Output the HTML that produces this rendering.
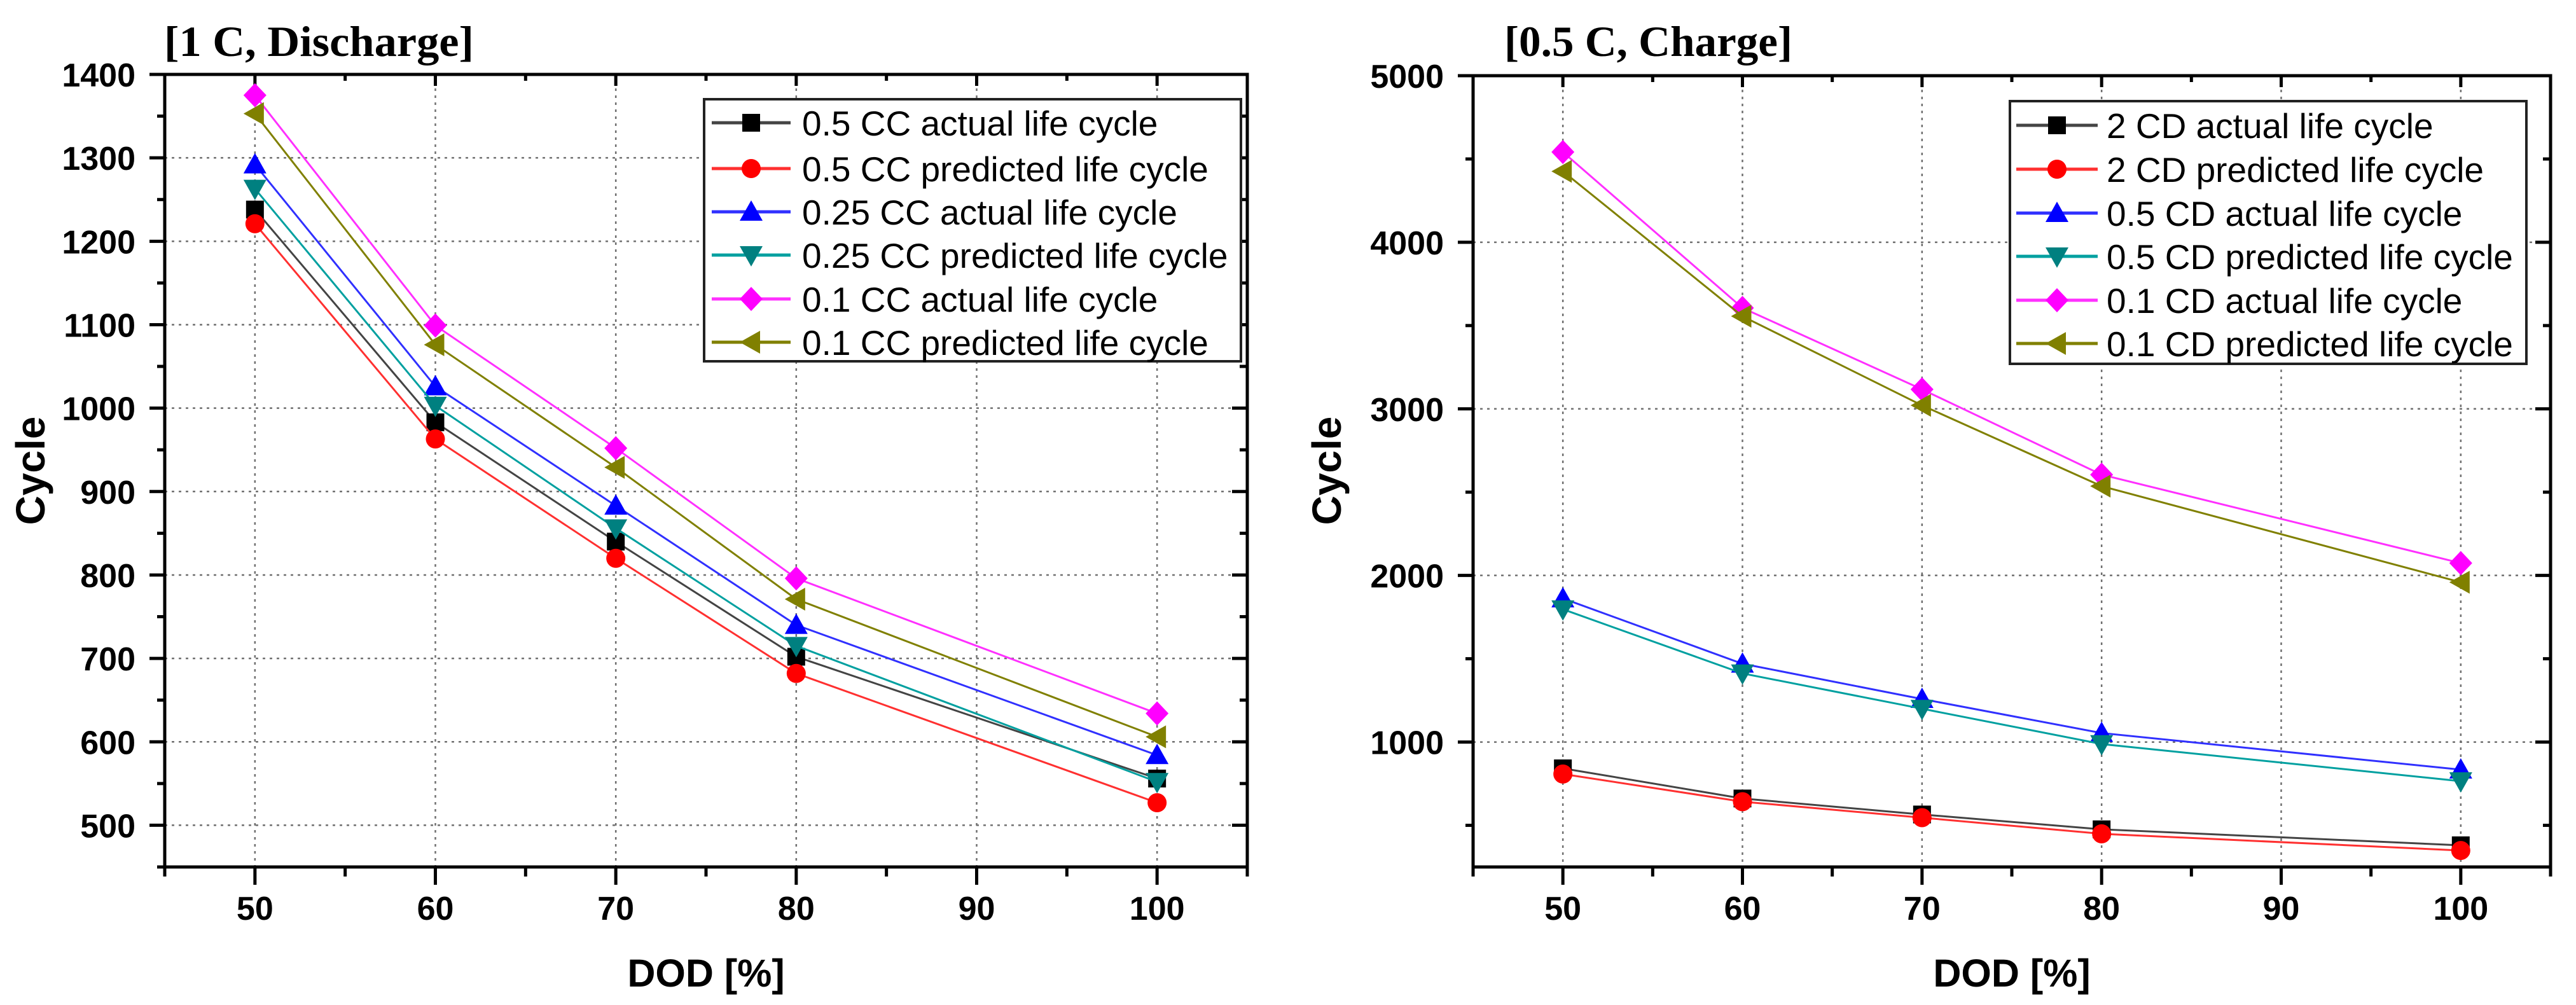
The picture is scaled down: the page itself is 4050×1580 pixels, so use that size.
<!DOCTYPE html>
<html><head><meta charset="utf-8">
<style>
html,body{margin:0;padding:0;background:#fff;}
svg{display:block;}
text{font-family:"Liberation Sans",Arial,sans-serif;}
.ttl{font-family:"Liberation Serif","Times New Roman",serif;font-weight:bold;}
</style></head>
<body>
<svg id="fig" width="4050" height="1580" viewBox="0 0 4050 1580" xmlns="http://www.w3.org/2000/svg"></svg>
<script>
// ---- data ----
const dod = [50, 60, 70, 80, 100];
const xTicks = [50, 60, 70, 80, 90, 100];
// Left chart: [1 C, Discharge]
const leftNames = ["0.5 CC actual life cycle","0.5 CC predicted life cycle","0.25 CC actual life cycle","0.25 CC predicted life cycle","0.1 CC actual life cycle","0.1 CC predicted life cycle"];
const cc05Actual = [1238, 983, 840, 702, 556];
const cc05Pred   = [1221, 963, 820, 682, 527];
const cc025Actual= [1292, 1026, 883, 740, 584];
const cc025Pred  = [1263, 1003, 856, 715, 552];
const cc01Actual = [1375, 1099, 952, 796, 634];
const cc01Pred   = [1353, 1076, 929, 771, 606];
const leftYTicks = [500, 600, 700, 800, 900, 1000, 1100, 1200, 1300, 1400];
// Right chart: [0.5 C, Charge]
const rightNames = ["2 CD actual life cycle","2 CD predicted life cycle","0.5 CD actual life cycle","0.5 CD predicted life cycle","0.1 CD actual life cycle","0.1 CD predicted life cycle"];
const cd2Actual  = [842, 661, 565, 476, 380];
const cd2Pred    = [808, 642, 546, 449, 349];
const cd05Actual = [1862, 1470, 1258, 1054, 834];
const cd05Pred   = [1797, 1412, 1200, 988, 765];
const cd01Actual = [4542, 3606, 3117, 2605, 2074];
const cd01Pred   = [4426, 3556, 3021, 2536, 1959];
const rightYTicks = [1000, 2000, 3000, 4000, 5000];

const styles = [
  {line:"#444444", fill:"#000000", m:"square"},
  {line:"#ff3030", fill:"#ff0000", m:"circle"},
  {line:"#3030ff", fill:"#0000ff", m:"up"},
  {line:"#00a0a0", fill:"#008080", m:"down"},
  {line:"#ff30ff", fill:"#ff00ff", m:"diamond"},
  {line:"#808000", fill:"#808000", m:"left"}
];
const NS = "http://www.w3.org/2000/svg";
const svg = document.getElementById("fig");
function mk(tag, attrs, parent, txt){
  const e = document.createElementNS(NS, tag);
  for (const k in attrs) e.setAttribute(k, attrs[k]);
  if (txt !== undefined) e.textContent = txt;
  (parent || svg).appendChild(e);
  return e;
}
function marker(g, type, cx, cy, fill){
  let e;
  if (type === "square") e = mk("rect", {x:cx-14, y:cy-14, width:28, height:28, fill:fill}, g);
  else if (type === "circle") e = mk("circle", {cx:cx, cy:cy, r:15, fill:fill}, g);
  else if (type === "up") e = mk("polygon", {points:`${cx},${cy-18} ${cx+18},${cy+14} ${cx-18},${cy+14}`, fill:fill}, g);
  else if (type === "down") e = mk("polygon", {points:`${cx-18},${cy-14} ${cx+18},${cy-14} ${cx},${cy+18}`, fill:fill}, g);
  else if (type === "diamond") e = mk("polygon", {points:`${cx},${cy-19} ${cx+18},${cy} ${cx},${cy+19} ${cx-18},${cy}`, fill:fill}, g);
  else e = mk("polygon", {points:`${cx-18},${cy} ${cx+14},${cy-18} ${cx+14},${cy+18}`, fill:fill}, g);
  return e;
}

function chart(cfg){
  const g = mk("g", {});
  
  
  const X = v => cfg.x0 + (v - 45) / 60 * (cfg.x1 - cfg.x0);
  const Y = v => cfg.y1 - (v - cfg.ymin) / (cfg.ymax - cfg.ymin) * (cfg.y1 - cfg.y0);
  // title
  const t = mk("text", {x:cfg.titleX, y:88, "font-size":68, class:"ttl", textLength:cfg.titleW, lengthAdjust:"spacingAndGlyphs"}, g, cfg.title);
  
  
  // grid
  const grid = mk("g", {stroke:"#707070", "stroke-width":2.5, "stroke-dasharray":"4,7"}, g);
  
  
  xTicks.forEach(v => mk("line", {x1:X(v), x2:X(v), y1:cfg.y0, y2:cfg.y1}, grid));
  cfg.yTicks.forEach(v => { if (v < cfg.ymax) mk("line", {x1:cfg.x0, x2:cfg.x1, y1:Y(v), y2:Y(v)}, grid); });
  // axes frame
  const ax = mk("g", {stroke:"#000", "stroke-width":5, fill:"none"}, g);
  
  
  mk("rect", {x:cfg.x0, y:cfg.y0, width:cfg.x1-cfg.x0, height:cfg.y1-cfg.y0}, ax);
  // x ticks
  for (let v = 45; v <= 105; v += 5) {
    const major = v % 10 === 0;
    mk("line", {x1:X(v), x2:X(v), y1:cfg.y1, y2:cfg.y1 + (major?28:15)}, ax);
    mk("line", {x1:X(v), x2:X(v), y1:cfg.y0, y2:cfg.y0 + (major?18:10)}, ax);
  }
  const xl = mk("g", {"font-size":52, "font-weight":"bold", "text-anchor":"middle", fill:"#000"}, g);
  
  
  xTicks.forEach(v => mk("text", {x:X(v), y:1446}, xl, String(v)));
  // y ticks
  for (let v = cfg.yminTick; v <= cfg.ymax; v += cfg.yMinor) {
    const major = cfg.yTicks.indexOf(v) >= 0;
    mk("line", {x1:cfg.x0, x2:cfg.x0 - (major?24:12), y1:Y(v), y2:Y(v)}, ax);
    mk("line", {x1:cfg.x1, x2:cfg.x1 - (major?24:12), y1:Y(v), y2:Y(v)}, ax);
  }
  const yl = mk("g", {"font-size":52, "font-weight":"bold", "text-anchor":"end", fill:"#000"}, g);
  
  
  cfg.yTicks.forEach(v => mk("text", {x:cfg.x0 - 46, y:Y(v) + 19}, yl, String(v)));
  // axis titles
  const xt = mk("text", {x:X(75), y:1551, "font-size":61, "font-weight":"bold", "text-anchor":"middle"}, g, "DOD [%]");
  
  
  const yt = mk("text", {x:0, y:0, "font-size":64, "font-weight":"bold", "text-anchor":"middle", transform:`translate(${cfg.yTitleX},740) rotate(-90)`}, g, "Cycle");
  
  
  // series
  cfg.series.forEach((vals, i) => {
    const s = styles[i];
    const sg = mk("g", {}, g);
    
    
    const pts = vals.map((v, j) => X(dod[j]) + "," + Y(v)).join(" ");
    mk("polyline", {points:pts, fill:"none", stroke:s.line, "stroke-width":3}, sg);
    vals.forEach((v, j) => {
      const m = marker(sg, s.m, X(dod[j]), Y(v), s.fill);
      
      
    });
  });
  // legend
  const L = cfg.leg;
  const lg = mk("g", {}, g);
  
  
  mk("rect", {x:L.x0, y:L.y0, width:L.x1-L.x0, height:L.y1-L.y0, fill:"#fff", stroke:"#222", "stroke-width":4}, lg);
  cfg.names.forEach((n, i) => {
    const s = styles[i];
    const cy = L.rows[i];
    const e = mk("g", {}, lg);
    
    
    mk("line", {x1:L.lx0, x2:L.lx1, y1:cy, y2:cy, stroke:s.line, "stroke-width":5}, e);
    marker(e, s.m, (L.lx0+L.lx1)/2, cy, s.fill);
    mk("text", {x:L.tx, y:cy + 20, "font-size":55, fill:"#000"}, e, n);
  });
}

chart({
  name:"discharge-chart", title:"[1 C, Discharge]", titleX:258, titleW:487,
  x0:259, x1:1961, y0:117, y1:1363, ymin:450, ymax:1400, yminTick:450, yMinor:50,
  yTicks:leftYTicks, yTitleX:70,
  series:[cc05Actual, cc05Pred, cc025Actual, cc025Pred, cc01Actual, cc01Pred],
  names:leftNames,
  leg:{x0:1107, x1:1951, y0:156, y1:568, lx0:1119, lx1:1243, tx:1261, rows:[193,265,333,401,470,538]}
});
chart({
  name:"charge-chart", title:"[0.5 C, Charge]", titleX:2365, titleW:453,
  x0:2316, x1:4010, y0:119, y1:1363, ymin:250, ymax:5000, yminTick:500, yMinor:500,
  yTicks:rightYTicks, yTitleX:2108,
  series:[cd2Actual, cd2Pred, cd05Actual, cd05Pred, cd01Actual, cd01Pred],
  names:rightNames,
  leg:{x0:3160, x1:3972, y0:159, y1:572, lx0:3170, lx1:3298, tx:3312, rows:[197,266,335,403,472,540]}
});
</script>
</body></html>
